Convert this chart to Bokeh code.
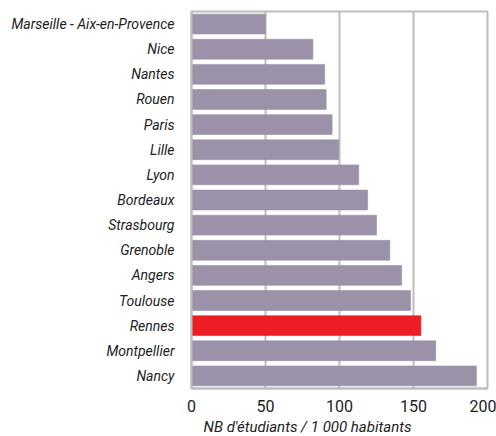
from bokeh.plotting import figure
from bokeh.models import ColumnDataSource, FactorRange, Range1d, FixedTicker, Title
from bokeh.embed import file_html
from bokeh.resources import INLINE

# Student density per city (students per 1 000 inhabitants)
cities = ["Marseille - Aix-en-Provence", "Nice", "Nantes", "Rouen", "Paris",
          "Lille", "Lyon", "Bordeaux", "Strasbourg", "Grenoble", "Angers",
          "Toulouse", "Rennes", "Montpellier", "Nancy"]
students_per_1000 = [50, 82, 90, 91, 95, 99.5, 113, 119, 125, 134, 142,
                     148, 155, 165, 192.5]
highlight_city = "Rennes"
x_ticks = [0, 50, 100, 150, 200]

BASE = "#9b91a8"
HIGHLIGHT = "#ee1d25"
colors = [HIGHLIGHT if c == highlight_city else BASE for c in cities]

source = ColumnDataSource(data=dict(city=cities, value=students_per_1000, color=colors))

p = figure(width=496, height=436,
           y_range=FactorRange(*reversed(cities), range_padding=0),
           x_range=Range1d(0, 200),
           output_backend="svg", toolbar_location=None,
           min_border_left=191, min_border_right=9,
           min_border_top=11, min_border_bottom=47)

p.hbar(y="city", right="value", left=0, height=0.79, source=source,
       fill_color="color", line_color="color", line_alpha=0.6)

FONT = "Roboto"
TEXT = "#222222"

# x axis
p.xaxis.ticker = FixedTicker(ticks=x_ticks)
p.xaxis.major_tick_line_color = None
p.xaxis.minor_tick_line_color = None
p.xaxis.axis_line_color = "#bdbdbd"
p.xaxis.axis_line_width = 2
p.xaxis.major_label_text_font = FONT
p.xaxis.major_label_text_font_size = "16px"
p.xaxis.major_label_text_color = TEXT
p.xaxis.major_label_standoff = 5

# y axis (city names)
p.yaxis.major_tick_line_color = None
p.yaxis.minor_tick_line_color = None
p.yaxis.axis_line_color = "#bdbdbd"
p.yaxis.axis_line_width = 2
p.yaxis.major_label_text_font = FONT
p.yaxis.major_label_text_font_style = "italic"
p.yaxis.major_label_text_font_size = "14px"
p.yaxis.major_label_text_color = TEXT
p.yaxis.major_label_standoff = 11

p.ygrid.grid_line_color = None
p.xgrid.ticker = FixedTicker(ticks=x_ticks[1:-1])
p.xgrid.grid_line_color = "#bdbdbd"
p.xgrid.grid_line_width = 2

p.outline_line_color = "#bdbdbd"
p.outline_line_width = 2

caption = Title(text="NB d'étudiants / 1 000 habitants", align="left", offset=12,
                text_font=FONT, text_font_style="italic", text_font_size="15px",
                text_color=TEXT, standoff=2)
p.add_layout(caption, "below")

open("out.html", "w").write(file_html(p, INLINE))
